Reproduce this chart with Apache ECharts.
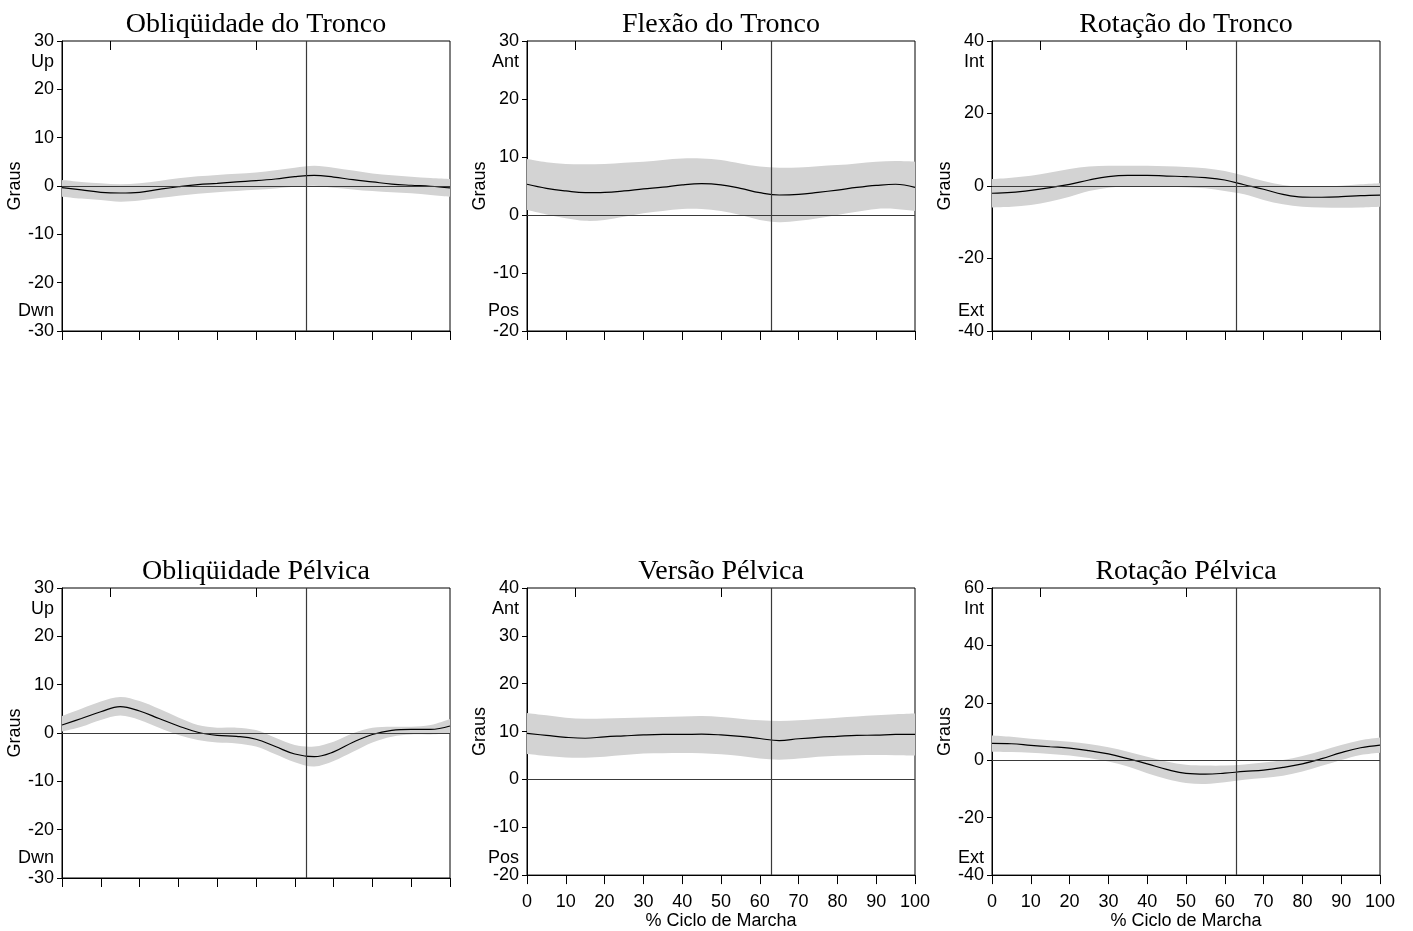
<!DOCTYPE html>
<html>
<head>
<meta charset="utf-8">
<script src="https://cdn.jsdelivr.net/npm/echarts@6/dist/echarts.min.js"></script>
<style>html,body{margin:0;padding:0;background:#fff;}#c{width:1413px;height:931px;}</style>
</head>
<body>
<div id="c"></div>
<script>
// % gait cycle sample points
const xs = [0,5,10,15,20,25,30,35,40,45,50,55,60,65,70,75,80,85,90,95,100];
const xTicks = [0,10,20,30,40,50,60,70,80,90,100];
const toeOff = 63;
const topTicks = [12.5, 50];

const titles = ['Obliqüidade do Tronco','Flexão do Tronco','Rotação do Tronco','Obliqüidade Pélvica','Versão Pélvica','Rotação Pélvica'];
const upLabels = ['Up','Ant','Int','Up','Ant','Int'];
const downLabels = ['Dwn','Pos','Ext','Dwn','Pos','Ext'];
const yMins = [-30,-20,-40,-30,-20,-40];
const yMaxs = [30,30,40,30,40,60];
const yIntervals = [10,10,20,10,10,20];

// Obliqüidade do Tronco
const trunkObliqMean  = [-0.35,-0.8,-1.3,-1.45,-1.3,-0.7,-0.15,0.3,0.55,0.85,1.1,1.45,1.95,2.2,1.85,1.3,0.85,0.4,0.15,-0.05,-0.4];
const trunkObliqUpper = [1.25,0.85,0.55,0.35,0.55,1.05,1.6,2.0,2.3,2.55,2.8,3.25,3.8,4.2,3.8,3.2,2.6,2.2,1.9,1.65,1.45];
const trunkObliqLower = [-2.2,-2.6,-2.9,-3.25,-3.0,-2.5,-2.0,-1.6,-1.3,-1.05,-0.8,-0.5,-0.15,0.05,-0.35,-0.7,-1.05,-1.3,-1.5,-1.85,-2.2];
// Flexão do Tronco
const trunkFlexMean  = [5.3,4.6,4.15,3.85,3.9,4.15,4.5,4.8,5.2,5.4,5.2,4.6,3.85,3.45,3.55,3.9,4.3,4.75,5.1,5.3,4.75];
const trunkFlexUpper = [9.65,9.1,8.8,8.75,8.8,9.0,9.2,9.5,9.75,9.75,9.5,8.9,8.35,8.15,8.2,8.4,8.6,8.9,9.2,9.3,9.2];
const trunkFlexLower = [0.85,0.1,-0.55,-1.0,-0.85,-0.3,0.3,0.7,1.05,1.05,0.7,0.0,-0.85,-1.25,-1.0,-0.55,0.0,0.55,1.05,1.05,0.7];
// Rotação do Tronco
const trunkRotMean  = [-2.0,-1.75,-1.2,-0.45,0.45,1.65,2.6,2.95,2.95,2.75,2.6,2.3,1.65,0.35,-0.9,-2.3,-3.05,-3.1,-2.95,-2.65,-2.5];
const trunkRotUpper = [1.9,2.3,2.85,3.75,4.7,5.35,5.6,5.6,5.6,5.45,5.25,4.9,4.15,2.85,1.4,0.3,-0.2,-0.2,0.1,0.45,0.75];
const trunkRotLower = [-5.9,-5.7,-5.25,-4.3,-2.95,-1.4,-0.45,-0.1,-0.1,-0.2,-0.35,-0.65,-1.4,-2.3,-3.85,-5.05,-5.7,-5.9,-6.0,-5.9,-5.7];
// Obliqüidade Pélvica
const pelvObliqMean  = [1.65,3.0,4.4,5.45,4.55,3.0,1.45,0.15,-0.5,-0.7,-1.3,-2.8,-4.35,-4.9,-3.9,-1.9,-0.3,0.55,0.75,0.75,1.45];
const pelvObliqUpper = [3.5,5.0,6.5,7.45,6.6,5.0,3.2,1.65,1.1,1.1,0.6,-1.0,-2.5,-2.8,-1.8,-0.05,1.1,1.3,1.3,1.65,2.9];
const pelvObliqLower = [0.3,1.3,2.7,3.6,2.7,1.1,-0.4,-1.45,-1.95,-2.15,-2.8,-4.4,-6.05,-6.95,-5.8,-3.9,-1.95,-0.75,-0.3,-0.3,-0.05];
// Versão Pélvica
const pelvTiltMean  = [9.6,9.2,8.8,8.6,8.9,9.1,9.3,9.4,9.4,9.45,9.3,9.0,8.55,8.1,8.5,8.8,9.0,9.2,9.25,9.4,9.4];
const pelvTiltUpper = [13.9,13.4,12.9,12.7,12.75,12.85,12.95,13.05,13.15,13.25,13.05,12.7,12.35,12.2,12.35,12.6,12.9,13.15,13.4,13.6,13.75];
const pelvTiltLower = [5.3,4.9,4.6,4.55,4.75,5.1,5.4,5.45,5.5,5.45,5.25,4.9,4.35,4.1,4.35,4.75,4.95,5.05,5.1,5.05,5.0];
// Rotação Pélvica
const pelvRotMean  = [5.85,5.75,5.2,4.7,4.25,3.35,2.2,0.55,-1.25,-3.2,-4.6,-4.85,-4.5,-3.9,-3.45,-2.5,-1.25,0.55,2.65,4.35,5.3];
const pelvRotUpper = [8.6,8.15,7.5,7.0,6.45,5.65,4.5,3.0,1.25,-0.45,-1.6,-1.85,-1.85,-1.5,-0.8,0.1,1.5,3.35,5.3,7.0,7.95];
const pelvRotLower = [3.0,2.9,2.65,2.2,1.7,0.8,-0.45,-2.2,-4.5,-6.55,-7.95,-8.3,-7.7,-6.8,-6.2,-5.4,-3.9,-1.95,0.1,1.85,2.65];

const means  = [trunkObliqMean, trunkFlexMean, trunkRotMean, pelvObliqMean, pelvTiltMean, pelvRotMean];
const uppers = [trunkObliqUpper, trunkFlexUpper, trunkRotUpper, pelvObliqUpper, pelvTiltUpper, pelvRotUpper];
const lowers = [trunkObliqLower, trunkFlexLower, trunkRotLower, pelvObliqLower, pelvTiltLower, pelvRotLower];

const SANS = '"Liberation Sans", Arial, Helvetica, sans-serif';
const SERIF = '"Liberation Serif", "Times New Roman", serif';
const FS = 18;
const lefts = [62, 527, 992];
const tops = [41, 588];
const W = 388, H = 290;

// Catmull-Rom spline through pixel points -> SVG path commands
function splinePath(pts, moveFirst) {
  let d = (moveFirst ? 'M' : 'L') + pts[0][0] + ',' + pts[0][1];
  for (let k = 0; k < pts.length - 1; k++) {
    const p0 = pts[Math.max(k - 1, 0)], p1 = pts[k], p2 = pts[k + 1], p3 = pts[Math.min(k + 2, pts.length - 1)];
    const c1x = p1[0] + (p2[0] - p0[0]) / 6, c1y = p1[1] + (p2[1] - p0[1]) / 6;
    const c2x = p2[0] - (p3[0] - p1[0]) / 6, c2y = p2[1] - (p3[1] - p1[1]) / 6;
    d += 'C' + c1x + ',' + c1y + ' ' + c2x + ',' + c2y + ' ' + p2[0] + ',' + p2[1];
  }
  return d;
}

const grid = [], xAxis = [], yAxis = [], series = [], title = [], graphic = [];
for (let i = 0; i < 6; i++) {
  const col = i % 3, row = Math.floor(i / 3);
  const L = lefts[col], T = tops[row];
  grid.push({left: L, top: T, width: W, height: H, show: true, borderColor: '#000', borderWidth: 1, backgroundColor: 'transparent'});
  const showXLabels = (i === 4 || i === 5);
  xAxis.push({
    type: 'value', gridIndex: i, min: 0, max: 100, interval: 10, position: 'bottom',
    axisLine: {show: true, onZero: false, lineStyle: {color: '#000', width: 1}},
    axisTick: {show: true, inside: false, length: 9, lineStyle: {color: '#000'}},
    axisLabel: {show: showXLabels, color: '#000', fontFamily: SANS, fontSize: FS, margin: 18},
    splitLine: {show: false},
    name: showXLabels ? '% Ciclo de Marcha' : '', nameLocation: 'middle', nameGap: 34,
    nameTextStyle: {color: '#000', fontFamily: SANS, fontSize: FS}
  });
  xAxis.push({
    type: 'value', gridIndex: i, min: 0, max: 100, position: 'top',
    axisLine: {show: false, onZero: false},
    axisTick: {show: true, inside: true, length: 9, customValues: topTicks, lineStyle: {color: '#000'}},
    axisLabel: {show: false},
    splitLine: {show: false}
  });
  yAxis.push({
    type: 'value', gridIndex: i, min: yMins[i], max: yMaxs[i], interval: yIntervals[i],
    axisLine: {show: true, onZero: false, lineStyle: {color: '#000', width: 1}},
    axisTick: {show: true, inside: false, length: 5, lineStyle: {color: '#000'}},
    axisLabel: {color: '#000', fontFamily: SANS, fontSize: FS, margin: 8},
    splitLine: {show: false},
    name: 'Graus', nameLocation: 'middle', nameGap: 36, nameRotate: 90,
    nameTextStyle: {color: '#000', fontFamily: SANS, fontSize: FS}
  });
  const up = uppers[i], lo = lowers[i];
  series.push({
    type: 'custom', xAxisIndex: 2 * i, yAxisIndex: i, silent: true, z: 1,
    data: xs.map((x, k) => [x, lo[k], up[k]]),
    encode: {x: 0, y: [1, 2]},
    renderItem: function (params, api) {
      if (params.dataIndex !== 0) return null;
      const upPts = xs.map((x, k) => api.coord([x, up[k]]));
      const loPts = xs.map((x, k) => api.coord([x, lo[k]])).reverse();
      const d = splinePath(upPts, true) + splinePath(loPts, false) + 'Z';
      return {type: 'path', shape: {pathData: d}, style: {fill: '#d3d3d3', stroke: null}};
    }
  });
  series.push({
    type: 'line', xAxisIndex: 2 * i, yAxisIndex: i, data: xs.map((x, k) => [x, means[i][k]]),
    smooth: 0.4, symbol: 'none', lineStyle: {color: '#000', width: 1.2}, z: 3,
    markLine: {
      silent: true, symbol: 'none', label: {show: false},
      lineStyle: {color: '#3a3a3a', width: 1.2, type: 'solid'},
      data: [{xAxis: toeOff}, {yAxis: 0}]
    }
  });
  title.push({
    text: titles[i], left: L + W / 2 - 5, textAlign: 'center', top: row === 0 ? 6 : 553,
    textStyle: {fontFamily: SERIF, fontWeight: 'normal', fontSize: 28, color: '#000'}
  });
  graphic.push({
    type: 'text', x: L - 8, y: T + 21,
    style: {text: upLabels[i], font: FS + 'px ' + SANS, fill: '#000', textAlign: 'right', textVerticalAlign: 'middle'}
  });
  graphic.push({
    type: 'text', x: L - 8, y: T + H - 20,
    style: {text: downLabels[i], font: FS + 'px ' + SANS, fill: '#000', textAlign: 'right', textVerticalAlign: 'middle'}
  });
}

const chart = echarts.init(document.getElementById('c'), null, {renderer: 'canvas'});
chart.setOption({
  animation: false,
  backgroundColor: '#fff',
  title, grid, xAxis, yAxis, series, graphic
});
</script>
</body>
</html>
